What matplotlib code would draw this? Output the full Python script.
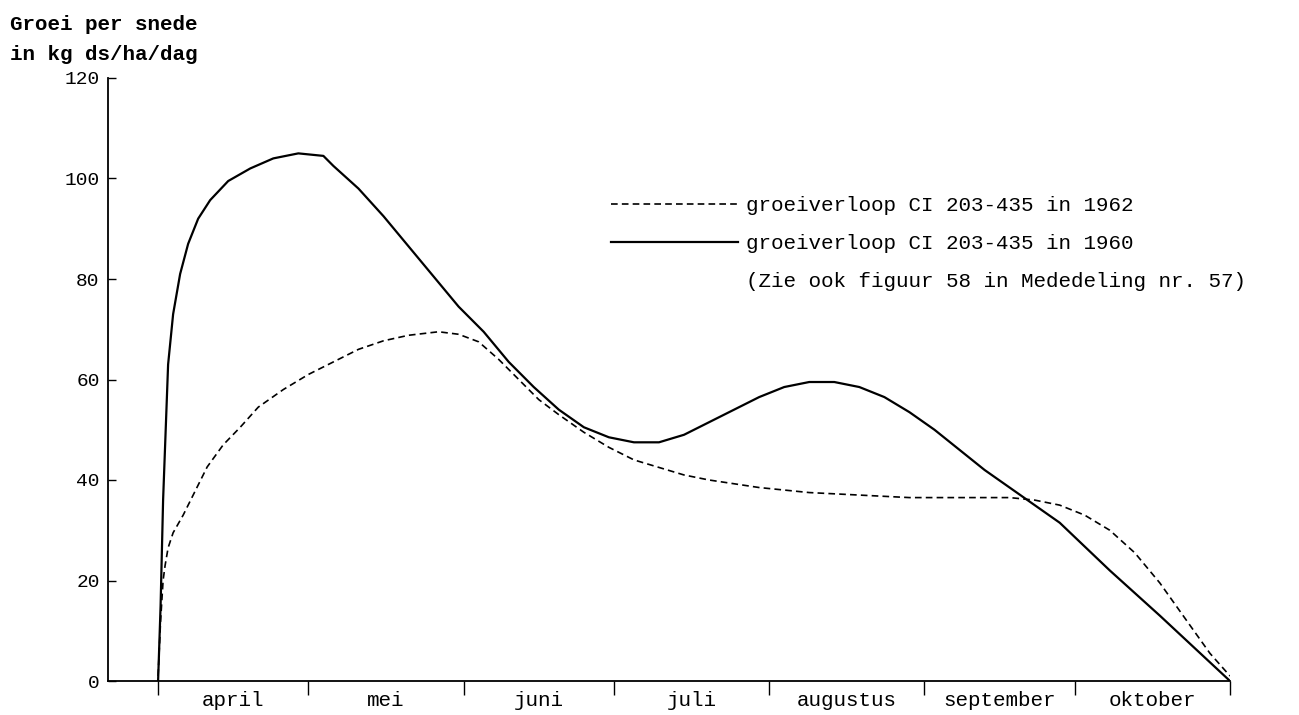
"""Groeiverloop CI 203-435: 1962 vs 1960 (groei per snede in kg ds/ha/dag)."""
import matplotlib
matplotlib.use("Agg")
import matplotlib.pyplot as plt
from matplotlib.lines import Line2D

plt.rcParams["font.family"] = ["Liberation Mono", "DejaVu Sans Mono"]

# x = days since 1 april
months = ["april", "mei", "juni", "juli", "augustus", "september", "oktober"]
month_starts = [0, 30, 61, 91, 122, 153, 183, 214]

# 1960 (solid)
days_1960 = [0, 0.5, 1, 2, 3, 4.4, 6, 8, 10.4, 14, 18.4, 23, 28, 33, 35, 40, 45,
             50, 55, 60, 65, 70, 75, 80, 85, 90, 95, 100, 105, 110, 115, 120,
             125, 130, 135, 140, 145, 150, 155, 160, 165, 170, 175, 180, 190,
             200, 207, 214]
groei_1960 = [0, 15, 36, 63, 73, 81, 87, 92, 95.7, 99.5, 102, 104, 105, 104.5,
              102.5, 98, 92.5, 86.5, 80.5, 74.5, 69.5, 63.5, 58.5, 54, 50.5,
              48.5, 47.5, 47.5, 49, 51.5, 54, 56.5, 58.5, 59.5, 59.5, 58.5,
              56.5, 53.5, 50, 46, 42, 38.5, 35, 31.5, 22, 13, 6.5, 0]

# 1962 (dashed)
days_1962 = [0, 0.5, 1, 1.4, 2, 3, 5, 7.5, 9.8, 13, 16.4, 20, 25, 30, 35, 40,
             45, 50, 56, 60, 64, 68, 72, 76, 80, 85, 90, 95, 100, 105, 110,
             120, 130, 140, 150, 160, 170, 175, 180, 185, 190, 195, 200, 205,
             210, 214]
groei_1962 = [1, 12, 20, 23, 26.5, 29.5, 33, 38, 42.6, 47, 50.5, 54.5, 58, 61,
              63.5, 66, 67.7, 68.8, 69.5, 69, 67.5, 64, 60, 56, 53, 49.5, 46.5,
              44, 42.5, 41, 40, 38.5, 37.5, 37, 36.5, 36.5, 36.5, 36, 35, 33,
              30, 25.5, 19.5, 12.5, 5.5, 1]

label_1962 = "groeiverloop CI 203-435 in 1962"
label_1960 = "groeiverloop CI 203-435 in 1960"
note = "(Zie ook figuur 58 in Mededeling nr. 57)"

W, H = 1299, 715
fig = plt.figure(figsize=(W / 100, H / 100), dpi=100)
ax = fig.add_axes([108 / W, (H - 681) / H, (1230 - 108) / W, (681 - 78) / H])

ax.plot(days_1962, groei_1962, color="black", lw=1.2, ls=(0, (4, 2.5)))
ax.plot(days_1960, groei_1960, color="black", lw=1.6)

ax.set_xlim(-10, 214)
ax.set_ylim(0, 120)
for s in ["top", "right"]:
    ax.spines[s].set_visible(False)
for s in ["left", "bottom"]:
    ax.spines[s].set_linewidth(1.3)

ax.set_yticks(range(0, 121, 20))
ax.tick_params(axis="y", direction="in", length=6, width=1, pad=6, labelsize=14)

ax.set_xticks(month_starts)
ax.set_xticklabels([])
ax.tick_params(axis="x", which="major", direction="out", length=10, width=1)
mids = [(a + b) / 2 for a, b in zip(month_starts[:-1], month_starts[1:])]
ax.set_xticks(mids, minor=True)
ax.set_xticklabels(months, minor=True, fontsize=15)
ax.tick_params(axis="x", which="minor", length=0, pad=7)

fig.text(10 / W, 1 - 25 / H, "Groei per snede", fontsize=15, va="center",
         fontweight="bold")
fig.text(10 / W, 1 - 55 / H, "in kg ds/ha/dag", fontsize=15, va="center",
         fontweight="bold")

handles = [Line2D([], [], color="black", lw=1.2, ls=(0, (4, 2.5))),
           Line2D([], [], color="black", lw=1.6),
           Line2D([], [], color="none")]
fig.legend(handles, [label_1962, label_1960, note], loc="upper left",
           bbox_to_anchor=(611 / W, 1 - 196 / H), frameon=False, fontsize=15,
           handlelength=6.1, handletextpad=0.4, labelspacing=0.92,
           borderaxespad=0, borderpad=0)

fig.savefig("out.png", dpi=100)
